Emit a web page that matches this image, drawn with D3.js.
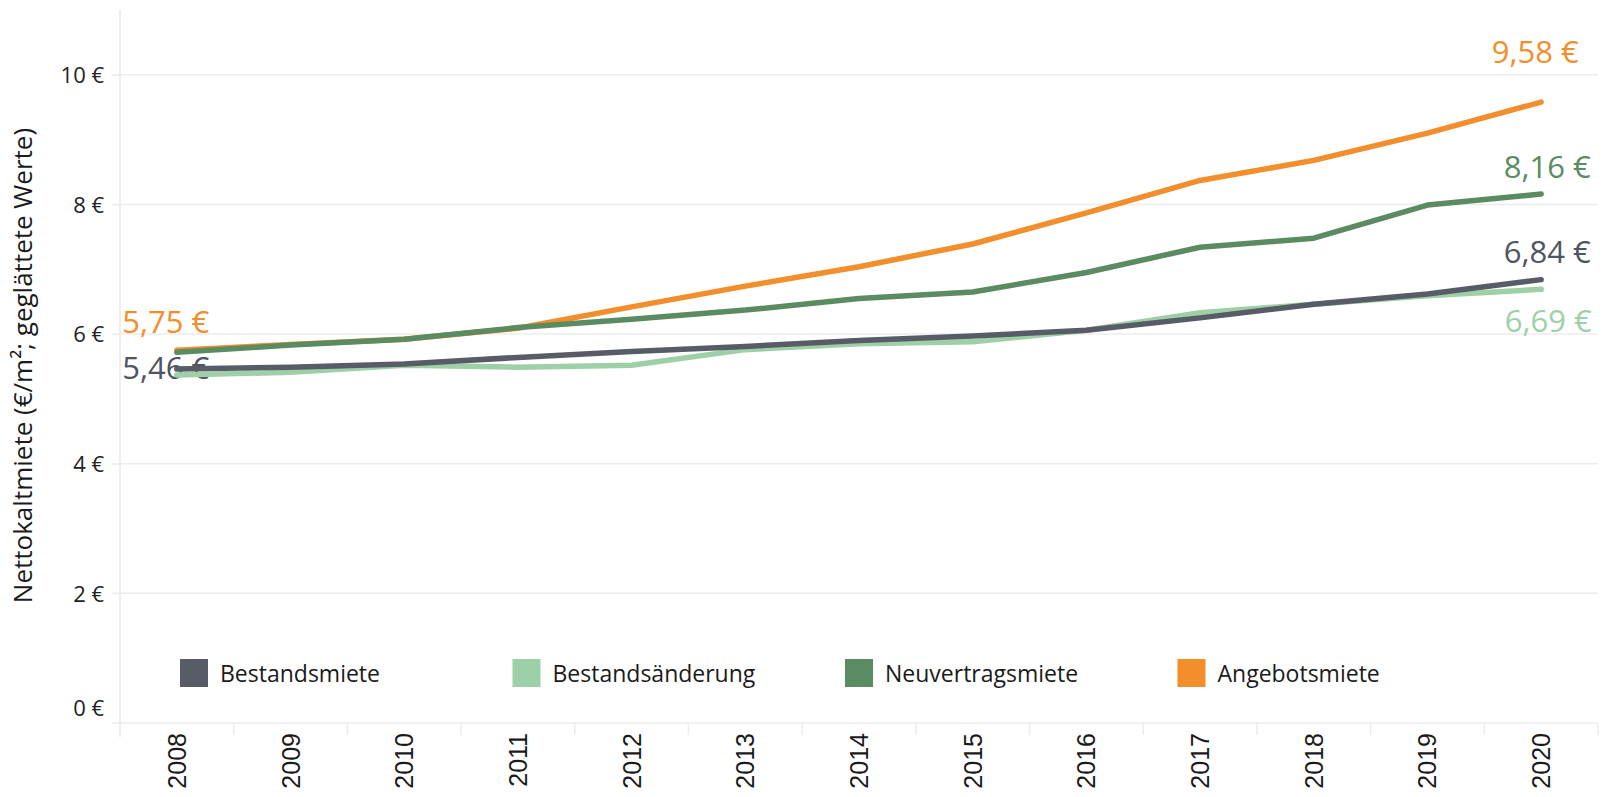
<!DOCTYPE html>
<html>
<head>
<meta charset="utf-8">
<script src="https://cdn.jsdelivr.net/npm/d3@7/dist/d3.min.js"></script>
<style>
  body { margin: 0; background: #fff; }
  svg { display: block; }
</style>
</head>
<body>
<div id="chart"></div>
<script>
// Data
const years = [2008, 2009, 2010, 2011, 2012, 2013, 2014, 2015, 2016, 2017, 2018, 2019, 2020];
const bestandsmiete = [5.46, 5.49, 5.54, 5.64, 5.73, 5.81, 5.90, 5.97, 6.06, 6.25, 6.46, 6.62, 6.84];
const bestandsaenderung = [5.37, 5.41, 5.52, 5.49, 5.52, 5.76, 5.85, 5.88, 6.06, 6.33, 6.46, 6.59, 6.69];
const neuvertragsmiete = [5.72, 5.83, 5.92, 6.10, 6.23, 6.37, 6.55, 6.65, 6.95, 7.34, 7.48, 7.99, 8.16];
const angebotsmiete = [5.75, 5.84, 5.92, 6.09, 6.42, 6.74, 7.04, 7.39, 7.87, 8.37, 8.68, 9.10, 9.58];
const yTicks = [0, 2, 4, 6, 8, 10];
const legendLabels = ['Bestandsmiete', 'Bestandsänderung', 'Neuvertragsmiete', 'Angebotsmiete'];
const yTitle = 'Nettokaltmiete (€/m²; geglättete Werte)';

const W = 1609, H = 797;
const margin = { left: 120, right: 1598, top: 10, bottom: 723 };

const colors = {
  bestand: '#585c67',
  aenderung: '#9dd0a6',
  neu: '#5b8b60',
  angebot: '#f28e2b'
};

const series = [
  { key: 'angebot', values: angebotsmiete },
  { key: 'aenderung', values: bestandsaenderung },
  { key: 'bestand', values: bestandsmiete },
  { key: 'neu', values: neuvertragsmiete }
];

const fmt = v => v.toFixed(2).replace('.', ',') + ' €';

const svg = d3.select('#chart').append('svg')
  .attr('width', W)
  .attr('height', H);

const x = d3.scaleBand().domain(years).range([margin.left, margin.right]);
const y = d3.scaleLinear().domain([0, 11]).range([margin.bottom, margin.top]);
const cx = d => x(d) + x.bandwidth() / 2;

// gridlines
svg.append('g')
  .selectAll('line')
  .data(yTicks)
  .enter()
  .append('line')
  .attr('x1', margin.left - 8)
  .attr('x2', margin.right)
  .attr('y1', d => y(d))
  .attr('y2', d => y(d))
  .attr('stroke', '#ececec')
  .attr('stroke-width', 1.5);

// left axis line
svg.append('line')
  .attr('x1', margin.left).attr('x2', margin.left)
  .attr('y1', margin.top).attr('y2', margin.bottom + 14)
  .attr('stroke', '#e8e8e8')
  .attr('stroke-width', 1.5);

// y axis labels
const yAxis = svg.append('g')
  .attr('transform', `translate(${margin.left},0)`)
  .call(d3.axisLeft(y).tickValues(yTicks).tickSize(8).tickPadding(8).tickFormat(d => d + ' €'));
yAxis.select('.domain').remove();
yAxis.selectAll('.tick line').attr('stroke', '#ececec');
yAxis.selectAll('.tick text')
  .attr('fill', '#222')
  .style('font-family', '"Open Sans", sans-serif')
  .style('font-size', '22px')
  .attr('dy', d => d === 0 ? '-0.35em' : '0.35em');

// x axis band separators
svg.append('g')
  .selectAll('line')
  .data(years.concat(['end']))
  .enter()
  .append('line')
  .attr('x1', (d, i) => margin.left + i * x.bandwidth())
  .attr('x2', (d, i) => margin.left + i * x.bandwidth())
  .attr('y1', margin.bottom)
  .attr('y2', margin.bottom + 12)
  .attr('stroke', '#ececec')
  .attr('stroke-width', 1.5);

// x labels
svg.append('g')
  .selectAll('text')
  .data(years)
  .enter()
  .append('text')
  .attr('transform', d => `translate(${cx(d)},${margin.bottom + 10}) rotate(-90)`)
  .attr('dy', '0.36em')
  .attr('text-anchor', 'end')
  .style('font-family', '"Liberation Sans", Arial, sans-serif')
  .style('font-size', '25px')
  .attr('fill', '#1a1a1a')
  .text(d => d);

// y title
svg.append('text')
  .attr('transform', `translate(32,${(113 + 618) / 2}) rotate(-90)`)
  .attr('text-anchor', 'middle')
  .style('font-family', '"Open Sans", sans-serif')
  .style('font-size', '26px')
  .attr('fill', '#1a1a1a')
  .text(yTitle);

// value labels (drawn under lines)
const lastI = years.length - 1;
const valueLabels = [
  { key: 'angebot', i: lastI, dx: -6, dy: -39 },
  { key: 'neu', i: lastI, dx: 6, dy: -16 },
  { key: 'bestand', i: lastI, dx: 6, dy: -17 },
  { key: 'aenderung', i: lastI, dx: 7, dy: 43 },
  { key: 'angebot', i: 0, dx: -11, dy: -17 },
  { key: 'bestand', i: 0, dx: -11, dy: 10 }
];
const byKey = {};
series.forEach(s => byKey[s.key] = s.values);

svg.append('g')
  .selectAll('text')
  .data(valueLabels)
  .enter()
  .append('text')
  .attr('x', d => cx(years[d.i]) + d.dx)
  .attr('y', d => y(byKey[d.key][d.i]) + d.dy)
  .attr('text-anchor', 'middle')
  .style('font-family', '"Open Sans", sans-serif')
  .style('font-size', '31px')
  .attr('fill', d => d.key === 'bestand' ? '#4f5461' : colors[d.key])
  .text(d => fmt(byKey[d.key][d.i]));

// lines
const line = d3.line()
  .x((d, i) => cx(years[i]))
  .y(d => y(d));

svg.append('g')
  .selectAll('path')
  .data(series)
  .enter()
  .append('path')
  .attr('fill', 'none')
  .attr('stroke', d => colors[d.key])
  .attr('stroke-width', 5.5)
  .attr('stroke-linecap', 'round')
  .attr('stroke-linejoin', 'round')
  .attr('d', d => line(d.values));

// legend
const legendKeys = ['bestand', 'aenderung', 'neu', 'angebot'];
const legend = svg.append('g').attr('transform', 'translate(180,659)');
legendLabels.forEach((label, i) => {
  const row = legend.append('g').attr('transform', `translate(${i * 332.5},0)`);
  row.append('rect')
    .attr('width', 28)
    .attr('height', 28)
    .attr('fill', colors[legendKeys[i]]);
  row.append('text')
    .attr('x', 40)
    .attr('y', 23)
    .style('font-family', '"Open Sans", sans-serif')
    .style('font-size', '23px')
    .attr('fill', '#1a1a1a')
    .text(label);
});
</script>
</body>
</html>
